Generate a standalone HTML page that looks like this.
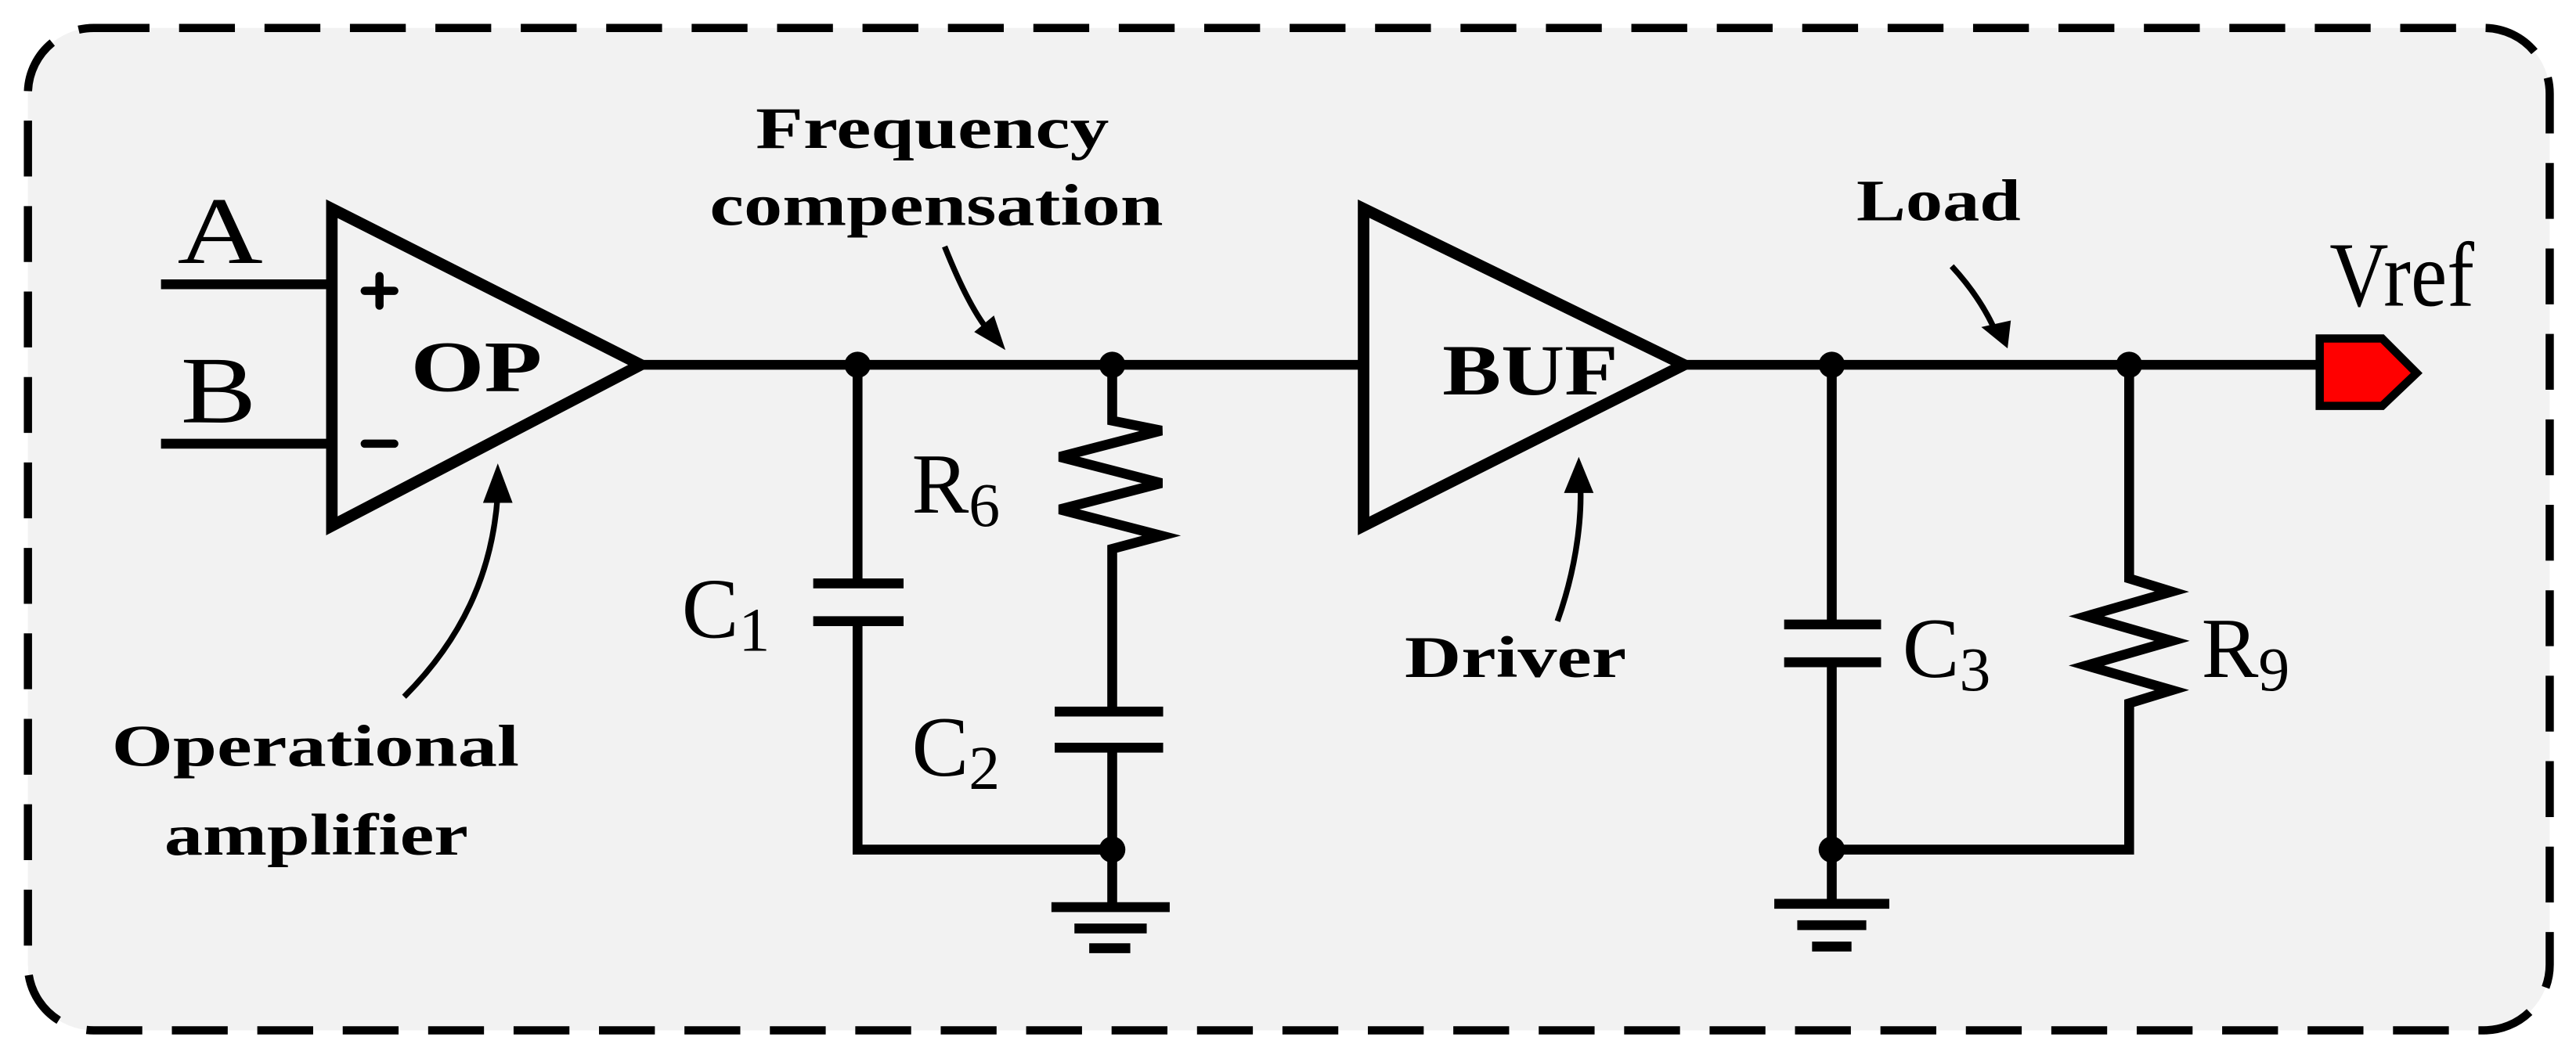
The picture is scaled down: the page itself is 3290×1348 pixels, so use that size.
<!DOCTYPE html>
<html><head><meta charset="utf-8"><style>
html,body{margin:0;padding:0;background:#fff;}
svg{display:block;}
text{font-family:"Liberation Serif",serif;fill:#000;}
.b{font-weight:bold;}
</style></head><body>
<svg width="3290" height="1348" viewBox="0 0 1568 642" preserveAspectRatio="none" xmlns="http://www.w3.org/2000/svg">
<rect x="17" y="17" width="1535" height="610" rx="40" fill="#f2f2f2" stroke="#000" stroke-width="5" stroke-dasharray="34,18"/>
<g stroke="#000" stroke-width="6" fill="none" stroke-linejoin="miter">
<line x1="98" y1="173" x2="200" y2="173"/>
<line x1="98" y1="270" x2="200" y2="270"/>
<polygon points="202,127 202,320 390,222" stroke-width="7"/>
<line x1="390" y1="222" x2="830" y2="222"/>
<polyline points="522,222 522,355"/>
<line x1="495" y1="355" x2="550" y2="355"/>
<line x1="495" y1="378" x2="550" y2="378"/>
<polyline points="522,378 522,517 677,517"/>
<polyline points="677,222 677,256 707,262 645,278 707,294 645,310 707,326 677,334 677,433"/>
<line x1="642" y1="433" x2="708" y2="433"/>
<line x1="642" y1="455" x2="708" y2="455"/>
<line x1="677" y1="455" x2="677" y2="552"/>
<line x1="640" y1="552" x2="712" y2="552"/>
<line x1="654" y1="565" x2="698" y2="565"/>
<line x1="663" y1="577" x2="688" y2="577"/>
<polygon points="830,127 830,320 1025,222" stroke-width="7"/>
<line x1="1025" y1="222" x2="1412" y2="222"/>
<line x1="1115" y1="222" x2="1115" y2="380"/>
<line x1="1086" y1="380" x2="1145" y2="380"/>
<line x1="1086" y1="403" x2="1145" y2="403"/>
<polyline points="1115,403 1115,517 1296,517 1296,430"/>
<polyline points="1296,222 1296,352 1322,360 1270,375 1322,390 1270,405 1322,420 1296,428 1296,432"/>
<line x1="1115" y1="517" x2="1115" y2="550"/>
<line x1="1080" y1="550" x2="1150" y2="550"/>
<line x1="1094" y1="563" x2="1136" y2="563"/>
<line x1="1103" y1="576" x2="1127" y2="576"/>
</g>
<g fill="#000">
<circle cx="522" cy="222" r="8"/><circle cx="677" cy="222" r="8"/><circle cx="677" cy="517" r="8"/>
<circle cx="1115" cy="222" r="8"/><circle cx="1296" cy="222" r="8"/><circle cx="1115" cy="517" r="8"/>
</g>
<polygon points="1412,206 1450,206 1471,227 1450,247 1412,247" fill="#f00" stroke="#000" stroke-width="5"/>
<g stroke="#000" stroke-width="5" stroke-linecap="round">
<line x1="222" y1="177" x2="240" y2="177"/><line x1="231" y1="168" x2="231" y2="186"/>
<line x1="222" y1="270" x2="240" y2="270"/>
</g>
<g stroke="#000" stroke-width="3.5" fill="none">
<path d="M246,424 C280,390 300,350 303,300"/>
<path d="M575,150 C585,175 595,195 605,205"/>
<path d="M1188,162 C1200,175 1210,190 1216,205"/>
<path d="M948,378 C958,350 963,320 962,295"/>
</g>
<g fill="#000">
<polygon points="303,282 294,306 312,306"/>
<polygon points="612,213 593,202 605,192"/>
<polygon points="1222,212 1206,199 1224,195"/>
<polygon points="961,278 952,300 970,300"/>
</g>
<text x="108" y="160" font-size="58" textLength="52" lengthAdjust="spacingAndGlyphs">A</text>
<text x="110" y="257" font-size="58" textLength="46" lengthAdjust="spacingAndGlyphs">B</text>
<text x="250" y="238" font-size="44" class="b" textLength="80" lengthAdjust="spacingAndGlyphs">OP</text>
<text x="878" y="240" font-size="44" class="b" textLength="107" lengthAdjust="spacingAndGlyphs">BUF</text>
<text x="460" y="90" font-size="36" class="b" textLength="215" lengthAdjust="spacingAndGlyphs">Frequency</text>
<text x="432" y="137" font-size="36" class="b" textLength="276" lengthAdjust="spacingAndGlyphs">compensation</text>
<text x="1130" y="134" font-size="36" class="b" textLength="100" lengthAdjust="spacingAndGlyphs">Load</text>
<text x="855" y="412" font-size="36" class="b" textLength="135" lengthAdjust="spacingAndGlyphs">Driver</text>
<text x="68" y="466" font-size="36" class="b" textLength="248" lengthAdjust="spacingAndGlyphs">Operational</text>
<text x="100" y="520" font-size="36" class="b" textLength="185" lengthAdjust="spacingAndGlyphs">amplifier</text>
<text x="1418" y="186" font-size="56" textLength="88" lengthAdjust="spacingAndGlyphs">Vref</text>
<text x="555" y="312" font-size="52">R<tspan font-size="38" dy="8">6</tspan></text>
<text x="415" y="388" font-size="52">C<tspan font-size="38" dy="8">1</tspan></text>
<text x="555" y="472" font-size="52">C<tspan font-size="38" dy="8">2</tspan></text>
<text x="1158" y="412" font-size="52">C<tspan font-size="38" dy="8">3</tspan></text>
<text x="1340" y="412" font-size="52">R<tspan font-size="38" dy="8">9</tspan></text>
</svg>
</body></html>
